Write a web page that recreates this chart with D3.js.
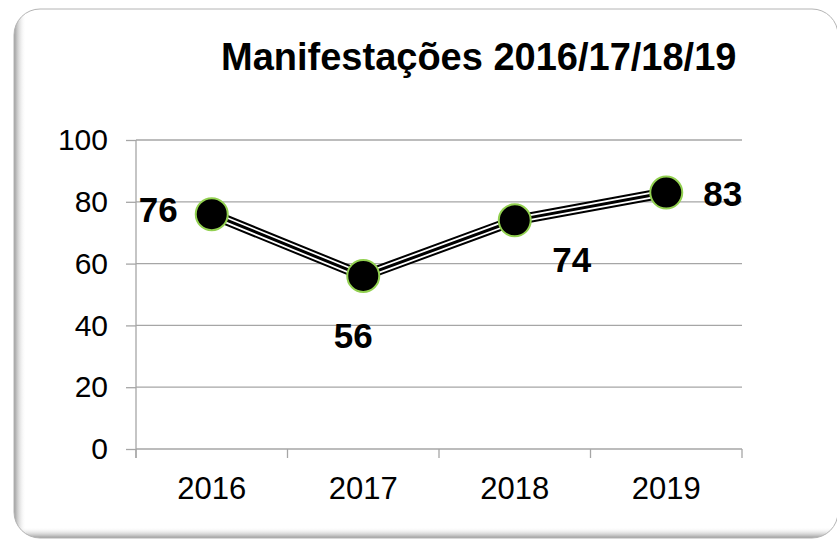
<!DOCTYPE html>
<html>
<head>
<meta charset="utf-8">
<script src="https://cdn.jsdelivr.net/npm/d3@7"></script>
<style>
    body { margin: 0; background: #fff; }
    svg { display: block; }
    text { font-family: "Liberation Sans", Arial, sans-serif; }
</style>
</head>
<body>
<div id="chart"></div>
<script>
// Dados do gráfico
const title = 'Manifestações 2016/17/18/19';
const years = ['2016', '2017', '2018', '2019'];
const values = [76, 56, 74, 83];
const yTicks = [0, 20, 40, 60, 80, 100];

// Posição dos rótulos em relação ao ponto: [dx, dy, âncora]
const labelOffsets = [[-34, 8, 'end'], [-10, 72, 'middle'], [57, 52, 'middle'], [37, 13, 'start']];

const width = 837;
const height = 542;
const plot = { left: 136, right: 742, top: 140, bottom: 449 };

const svg = d3.select('#chart').append('svg')
    .attr('width', width)
    .attr('height', height);

const defs = svg.append('defs');

// Moldura arredondada com sombra interna à esquerda e em baixo
const frame = { x: 14, y: 9, w: 824, h: 529, r: 26 };
defs.append('clipPath').attr('id', 'frame-clip')
    .append('rect')
    .attr('x', frame.x).attr('y', frame.y)
    .attr('width', frame.w).attr('height', frame.h)
    .attr('rx', frame.r);

const gLeft = defs.append('linearGradient').attr('id', 'shade-left')
    .attr('x1', 0).attr('x2', 1).attr('y1', 0).attr('y2', 0);
gLeft.append('stop').attr('offset', 0).attr('stop-color', '#9a9a9a');
gLeft.append('stop').attr('offset', 1).attr('stop-color', '#fff').attr('stop-opacity', 0);

const gBottom = defs.append('linearGradient').attr('id', 'shade-bottom')
    .attr('x1', 0).attr('x2', 0).attr('y1', 0).attr('y2', 1);
gBottom.append('stop').attr('offset', 0).attr('stop-color', '#fff').attr('stop-opacity', 0);
gBottom.append('stop').attr('offset', 1).attr('stop-color', '#9a9a9a');

svg.append('rect')
    .attr('x', frame.x).attr('y', frame.y)
    .attr('width', frame.w).attr('height', frame.h)
    .attr('rx', frame.r)
    .attr('fill', '#fff');

const shade = svg.append('g').attr('clip-path', 'url(#frame-clip)');
shade.append('rect')
    .attr('x', frame.x).attr('y', frame.y)
    .attr('width', 12).attr('height', frame.h)
    .attr('fill', 'url(#shade-left)');
shade.append('rect')
    .attr('x', frame.x).attr('y', frame.y + frame.h - 11)
    .attr('width', frame.w).attr('height', 11)
    .attr('fill', 'url(#shade-bottom)');

svg.append('rect')
    .attr('x', frame.x).attr('y', frame.y)
    .attr('width', frame.w).attr('height', frame.h)
    .attr('rx', frame.r)
    .attr('fill', 'none')
    .attr('stroke', '#b4b4b4')
    .attr('stroke-width', 1);

// Escalas
const x = d3.scaleBand()
    .domain(years)
    .range([plot.left, plot.right]);

const y = d3.scaleLinear()
    .domain([0, 100])
    .range([plot.bottom, plot.top]);

const gridColor = '#a6a6a6';

// Linhas de grade horizontais
svg.append('g')
    .selectAll('line')
    .data(yTicks.filter(d => d > 0))
    .enter().append('line')
    .attr('x1', plot.left).attr('x2', plot.right)
    .attr('y1', d => y(d)).attr('y2', d => y(d))
    .attr('stroke', gridColor)
    .attr('stroke-width', 1.3);

// Eixo Y
const yAxis = svg.append('g')
    .attr('transform', `translate(${plot.left},0)`)
    .call(d3.axisLeft(y).tickValues(yTicks).tickSize(10).tickPadding(18));
yAxis.select('.domain').remove();
yAxis.selectAll('line').attr('stroke', gridColor).attr('stroke-width', 1.3);
yAxis.selectAll('text')
    .attr('font-size', 30)
    .attr('fill', '#000')
    .style('font-family', '"Liberation Sans", Arial, sans-serif');

svg.append('line')
    .attr('x1', plot.left).attr('x2', plot.left)
    .attr('y1', plot.top).attr('y2', plot.bottom + 9)
    .attr('stroke', gridColor)
    .attr('stroke-width', 1.3);

// Eixo X: marcas nos limites das categorias
svg.append('line')
    .attr('x1', plot.left).attr('x2', plot.right)
    .attr('y1', plot.bottom).attr('y2', plot.bottom)
    .attr('stroke', gridColor)
    .attr('stroke-width', 1.3);

const boundaries = years.map(d => x(d)).concat([x(years[years.length - 1]) + x.bandwidth()]);
svg.append('g')
    .selectAll('line')
    .data(boundaries)
    .enter().append('line')
    .attr('x1', d => d).attr('x2', d => d)
    .attr('y1', plot.bottom).attr('y2', plot.bottom + 9)
    .attr('stroke', gridColor)
    .attr('stroke-width', 1.3);

svg.append('g')
    .selectAll('text')
    .data(years)
    .enter().append('text')
    .attr('x', d => x(d) + x.bandwidth() / 2)
    .attr('y', plot.bottom + 50)
    .attr('text-anchor', 'middle')
    .attr('font-size', 31)
    .text(d => d);

// Linha composta (preto / branco / preto)
const points = years.map((d, i) => [x(d) + x.bandwidth() / 2, y(values[i])]);
const line = d3.line();

[['#000', 10.5], ['#fff', 6.5], ['#000', 3]].forEach(([color, w]) => {
    svg.append('path')
        .attr('d', line(points))
        .attr('fill', 'none')
        .attr('stroke', color)
        .attr('stroke-width', w)
        .attr('stroke-linejoin', 'miter');
});

// Marcadores
svg.append('g')
    .selectAll('circle')
    .data(points)
    .enter().append('circle')
    .attr('cx', d => d[0])
    .attr('cy', d => d[1])
    .attr('r', 16)
    .attr('fill', '#000')
    .attr('stroke', '#92d050')
    .attr('stroke-width', 2);

// Rótulos de dados
svg.append('g')
    .selectAll('text')
    .data(values)
    .enter().append('text')
    .attr('x', (d, i) => points[i][0] + labelOffsets[i][0])
    .attr('y', (d, i) => points[i][1] + labelOffsets[i][1])
    .attr('text-anchor', (d, i) => labelOffsets[i][2])
    .attr('font-size', 35)
    .attr('font-weight', 'bold')
    .text(d => d);

// Título
svg.append('text')
    .attr('x', 221)
    .attr('y', 70)
    .attr('font-size', 38)
    .attr('font-weight', 'bold')
    .text(title);
</script>
</body>
</html>
